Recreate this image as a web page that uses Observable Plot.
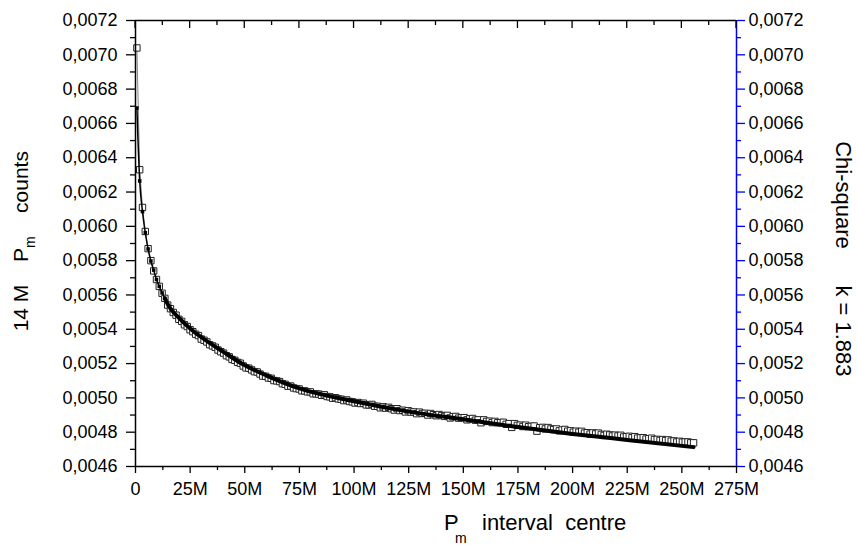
<!DOCTYPE html>
<html><head><meta charset="utf-8">
<script src="https://cdn.jsdelivr.net/npm/d3@7"></script>
<script src="https://cdn.jsdelivr.net/npm/@observablehq/plot@0.6"></script>
<style>body{margin:0;background:#fff;} svg{display:block;}</style>
</head><body><div id="chart"></div>
<script>
// interval centres (millions): start + width * index
const intervalStartM = 0.64;
const intervalWidthM = 1.28;
// Pm counts per interval, in units of 1e-6
const countsE6 = [
7040,6330,6110,5970,5870,5800,5740,5690,5650,5610,5580,
5541,5520,5498,5482,5458,5446,5426,5416,5397,5386,
5371,5363,5343,5336,5326,5310,5303,5295,5279,5269,
5261,5246,5239,5224,5219,5207,5202,5186,5175,5173,
5163,5153,5151,5139,5127,5126,5116,5114,5101,5099,
5095,5083,5079,5068,5069,5058,5054,5052,5041,5041,
5035,5035,5024,5024,5022,5015,5018,5008,5006,4998,
5001,4994,4992,4984,4988,4979,4977,4970,4973,4967,
4969,4959,4959,4962,4951,4951,4942,4948,4940,4945,
4937,4929,4937,4926,4928,4918,4925,4917,4918,4908,
4917,4909,4910,4900,4909,4902,4896,4903,4897,4892,
4898,4883,4890,4892,4882,4884,4885,4872,4878,4880,
4870,4872,4855,4872,4863,4864,4856,4863,4855,4856,
4858,4846,4850,4828,4850,4840,4841,4833,4841,4832,
4834,4836,4806,4826,4828,4819,4827,4819,4815,4819,
4808,4813,4816,4806,4808,4800,4806,4800,4805,4795,
4797,4789,4796,4790,4795,4787,4781,4788,4784,4778,
4783,4778,4782,4772,4774,4776,4768,4774,4766,4767,
4768,4760,4762,4765,4757,4758,4752,4757,4751,4755,
4748,4749,4743,4747,4742,4743,4743,4738,4738
];
// Chi-square fit (k = 1.883), read at these x positions (millions), units 1e-6
const fitXM = [0.64,1.92,3.2,4.48,5.76,7.04,8.32,9.6,10.88,12.16,13.44,15,20,25,30,40,50,60,75,100,125,150,175,200,225,255.36];
const fitE6 = [6690,6265,6086,5963,5868,5798,5745,5690,5650,5612,5580,5540,5465,5405,5355,5270,5190,5130,5055,4980,4920,4875,4830,4790,4755,4713];
const fitMarkerCount = 11;

const xTicksMajor = [0,25,50,75,100,125,150,175,200,225,250,275];
const xTicksMinor = [12.5,37.5,62.5,87.5,112.5,137.5,162.5,187.5,212.5,237.5,262.5];
const yTicksMajor = [0.0046,0.0048,0.0050,0.0052,0.0054,0.0056,0.0058,0.0060,0.0062,0.0064,0.0066,0.0068,0.0070,0.0072];
const yTicksMinor = [0.0047,0.0049,0.0051,0.0053,0.0055,0.0057,0.0059,0.0061,0.0063,0.0065,0.0067,0.0069,0.0071];
const xDomain = [0, 275];
const yDomain = [0.0046, 0.0072];

const data = countsE6.map((v, i) => ({x: intervalStartM + intervalWidthM * i, y: v * 1e-6}));
const fit = fitXM.map((x, i) => ({x, y: fitE6[i] * 1e-6}));
const fitMarkers = fit.slice(0, fitMarkerCount);
const fitThick = fit.filter(d => d.x >= 13);

const fmtY = d => d.toFixed(4).replace(".", ",");
const fmtX = d => d === 0 ? "0" : d + "M";
const none = () => "";

const chart = Plot.plot({
  width: 857, height: 554,
  marginLeft: 135, marginRight: 121, marginTop: 20, marginBottom: 88,
  style: {fontFamily: "'Liberation Sans', Arial, sans-serif", fontSize: "18px", color: "black", background: "white", overflow: "visible"},
  x: {domain: xDomain, label: null},
  y: {domain: yDomain, label: null},
  marks: [
    Plot.line(data, {x: "x", y: "y", stroke: "#888", strokeWidth: 1}),
    Plot.dot(data, {x: "x", y: "y", symbol: "square", r: 3.6, fill: "white", stroke: "#222", strokeWidth: 1}),
    Plot.line(fit, {x: "x", y: "y", curve: "monotone-x", stroke: "black", strokeWidth: 1.5}),
    Plot.line(fitThick, {x: "x", y: "y", curve: "monotone-x", stroke: "black", strokeWidth: 4}),
    Plot.dot(fitMarkers, {x: "x", y: "y", symbol: "square", r: 2, fill: "black"}),
    Plot.axisX(xTicksMajor, {anchor: "bottom", tickSize: 7, tickPadding: 9, tickFormat: fmtX, fontSize: 18, strokeWidth: 1.3, label: null}),
    Plot.axisX(xTicksMinor, {anchor: "bottom", tickSize: 4, tickFormat: none, strokeWidth: 1.3, label: null}),
    Plot.axisY(yTicksMajor, {anchor: "left", tickSize: 9, tickPadding: 9, tickFormat: fmtY, fontSize: 18, strokeWidth: 1.3, label: null}),
    Plot.axisY(yTicksMinor, {anchor: "left", tickSize: 5, tickFormat: none, strokeWidth: 1.3, label: null}),
    Plot.axisY(yTicksMajor, {anchor: "right", tickSize: 8, tickFormat: none, stroke: "blue", strokeWidth: 1.3, label: null}),
    Plot.axisY(yTicksMinor, {anchor: "right", tickSize: 4, tickFormat: none, stroke: "blue", strokeWidth: 1.3, label: null}),
    Plot.axisY(yTicksMajor, {anchor: "right", tickSize: 0, tickPadding: 12, tickFormat: fmtY, fontSize: 18, fill: "black", label: null}),
    Plot.ruleX([xDomain[0]], {stroke: "black", strokeWidth: 1.5}),
    Plot.ruleY([yDomain[1]], {stroke: "black", strokeWidth: 1.5}),
    Plot.ruleY([yDomain[0]], {stroke: "black", strokeWidth: 1.5}),
    Plot.ruleX([xDomain[1]], {stroke: "blue", strokeWidth: 1.5})
  ]
});

document.getElementById("chart").appendChild(chart);

const svg = d3.select(chart);
// inward ticks hanging from the top frame, placed through Plot's own scales
const xs = chart.scale("x"), ys = chart.scale("y");
const topPx = ys.apply(yDomain[1]);
const topTicks = svg.append("g").attr("stroke", "black").attr("stroke-width", 1.3);
xTicksMajor.forEach(v => topTicks.append("line").attr("x1", xs.apply(v)).attr("x2", xs.apply(v)).attr("y1", topPx).attr("y2", topPx + 8));
xTicksMinor.forEach(v => topTicks.append("line").attr("x1", xs.apply(v)).attr("x2", xs.apply(v)).attr("y1", topPx).attr("y2", topPx + 5));

const font = "'Liberation Sans', Arial, sans-serif";
function addText(txt, x, y, size, rotate, anchor) {
  return svg.append("text")
    .attr("transform", `translate(${x},${y}) rotate(${rotate})`)
    .attr("text-anchor", anchor)
    .attr("font-family", font)
    .attr("font-size", size)
    .attr("fill", "black")
    .text(txt);
}
// x-axis title
addText("P", 444, 530, 22, 0, "start");
addText("m", 455, 543, 14, 0, "start");
addText("interval  centre", 482, 530, 22, 0, "start").attr("xml:space", "preserve").style("white-space", "pre");
// left y-axis title (reads bottom to top)
addText("14 M", 28, 308, 21, -90, "middle");
addText("P", 28, 262, 21, -90, "start");
addText("m", 35, 248, 14, -90, "start");
addText("counts", 28, 182, 21, -90, "middle");
// right axis title (reads top to bottom)
addText("Chi-square", 836, 195, 22, 90, "middle");
addText("k = 1.883", 836, 331, 22, 90, "middle");
</script>
</body></html>
